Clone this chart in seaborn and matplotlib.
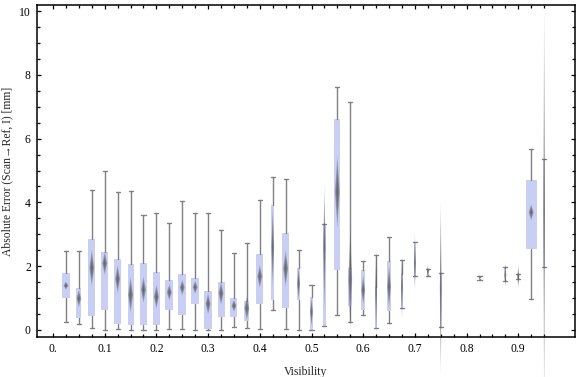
import numpy as np
import matplotlib
matplotlib.use("Agg")
import matplotlib.pyplot as plt
from matplotlib.ticker import FixedLocator, FuncFormatter
import seaborn as sns

# Summary statistics per visibility bin
visibility = [0.025, 0.05, 0.075, 0.1, 0.125, 0.15, 0.175, 0.2, 0.225, 0.25,
              0.275, 0.3, 0.325, 0.35, 0.375, 0.4, 0.425, 0.45, 0.475, 0.5,
              0.525, 0.55, 0.575, 0.6, 0.625, 0.65, 0.675, 0.7, 0.725, 0.75,
              0.825, 0.875, 0.9, 0.925, 0.95]
whisker_lo = [0.24, 0.18, 0.05, 0.00, 0.02, 0.00, 0.00, 0.00, 0.02, 0.02,
              0.00, 0.00, 0.00, 0.08, 0.05, 0.02, 0.64, 0.02, 0.00, 0.00,
              0.12, 0.46, 0.24, 0.46, 0.05, 0.21, 0.68, 1.70, 1.69, 0.10,
              1.57, 1.55, 1.59, 0.97, 1.98]
q1 = [1.01, 0.39, 0.45, 0.64, 0.20, 0.16, 0.16, 0.16, 0.64, 0.48,
      0.82, 0.04, 0.42, 0.42, 0.29, 0.82, 0.95, 0.70, 0.95, 0.01,
      0.14, 1.89, 0.76, 0.64, 0.05, 0.61, 0.70, 1.70, 1.72, 0.10,
      1.60, 1.60, 1.62, 2.55, 1.98]
median = [1.39, 0.99, 1.95, 2.09, 1.60, 1.10, 1.26, 1.04, 1.18, 1.33,
          1.34, 0.82, 1.15, 0.76, 0.68, 1.68, 2.60, 1.93, 1.46, 0.57,
          2.60, 4.34, 1.60, 1.25, 1.20, 1.36, 1.35, 2.10, 1.83, 1.30,
          1.63, 1.72, 1.67, 3.69, 3.70]
q3 = [1.78, 1.32, 2.85, 2.44, 2.23, 2.07, 2.10, 1.82, 1.57, 1.76,
      1.63, 1.22, 1.50, 1.00, 0.91, 2.38, 3.92, 3.04, 1.93, 1.03,
      3.32, 6.63, 1.94, 1.88, 1.36, 2.16, 1.76, 2.75, 1.87, 1.78,
      1.66, 1.93, 1.73, 4.70, 5.35]
whisker_hi = [2.47, 2.47, 4.38, 4.97, 4.32, 4.35, 3.59, 3.66, 3.34, 4.03,
              3.66, 3.66, 3.12, 2.40, 2.72, 4.07, 4.79, 4.72, 2.50, 1.40,
              3.32, 7.61, 7.14, 2.15, 2.34, 2.91, 2.18, 2.75, 1.90, 1.78,
              1.69, 1.98, 1.75, 5.66, 5.35]
# median confidence half-range (drawn as the blurred diamond)
median_ci = [0.13, 0.28, 0.58, 0.37, 0.45, 0.58, 0.42, 0.39, 0.26, 0.25,
             0.21, 0.34, 0.37, 0.19, 0.39, 0.37, 1.25, 0.58, 0.52, 0.47,
             2.00, 1.15, 1.60, 0.47, 1.40, 0.70, 1.05, 0.90, 0.21, 2.80,
             0.10, 0.40, 0.37, 0.26, 7.00]
# relative sample weight of each bin (sets box width)
weight = [0.73, 0.45, 0.64, 0.64, 0.64, 0.55, 0.64, 0.64, 0.73, 0.73,
          0.73, 0.73, 0.64, 0.64, 0.45, 0.64, 0.27, 0.64, 0.27, 0.27,
          0.23, 0.55, 0.36, 0.36, 0.18, 0.36, 0.18, 0.18, 0.18, 0.18,
          0.10, 0.18, 0.18, 1.00, 0.14]

box_color = "#C8CEF4"
whisker_color = "#808080"
diamond_color = "#555555"
max_width = 0.0213

sns.set_style("ticks")
plt.rcParams["font.family"] = ["Liberation Serif", "DejaVu Serif"]

fig = plt.figure(figsize=(5.76, 3.77), dpi=100)
ax = fig.add_axes([37 / 576, 40 / 377, 538 / 576, 332 / 377])

stats = []
for lo, a, m, b, hi in zip(whisker_lo, q1, median, q3, whisker_hi):
    stats.append(dict(whislo=lo, q1=a, med=m, q3=b, whishi=hi, fliers=[]))

widths = [w * max_width for w in weight]
ax.bxp(stats, positions=visibility, widths=widths, patch_artist=True,
       showfliers=False, manage_ticks=False, capwidths=0.008,
       boxprops=dict(facecolor=box_color, edgecolor="none", linewidth=0),
       whiskerprops=dict(color=whisker_color, linewidth=1.0),
       capprops=dict(color=whisker_color, linewidth=1.0),
       medianprops=dict(linewidth=0))

# blurred diamond median markers: stacked translucent diamonds
layers = 7
for x, m, h, w in zip(visibility, median, median_ci, widths):
    hw = min(0.005, w / 2)
    for k in range(layers):
        s = (layers - k) / layers
        ax.fill([x - hw * s, x, x + hw * s, x], [m, m + h * s, m, m - h * s],
                color=diamond_color, alpha=0.24, linewidth=0, clip_on=False,
                zorder=3)

ax.set_xlim(-0.031, 1.0097)
ax.set_ylim(-0.22, 10.19)

ax.xaxis.set_major_locator(FixedLocator(np.arange(0, 10) / 10))
ax.xaxis.set_minor_locator(FixedLocator(np.arange(0, 39) * 0.025))
ax.xaxis.set_major_formatter(FuncFormatter(lambda v, p: "0." if v == 0 else f"{v:.1f}"))
ax.yaxis.set_major_locator(FixedLocator([0, 2, 4, 6, 8, 10]))
ax.yaxis.set_minor_locator(FixedLocator(np.arange(0, 21) * 0.5))

ax.tick_params(which="both", direction="in", top=True, right=True,
               colors="black", labelsize=8.4, width=0.9)
ax.tick_params(which="major", length=3.2, pad=4.5)
ax.tick_params(which="minor", length=2.0)
for sp in ax.spines.values():
    sp.set_linewidth(1.1)
    sp.set_color("black")

ax.set_xlabel("Visibility", fontsize=8.4, labelpad=8)
ax.set_ylabel("Absolute Error (Scan\u2192Ref, I) [mm]", fontsize=8.4, labelpad=4)
ax.grid(False)

fig.savefig("out.png", dpi=100)
